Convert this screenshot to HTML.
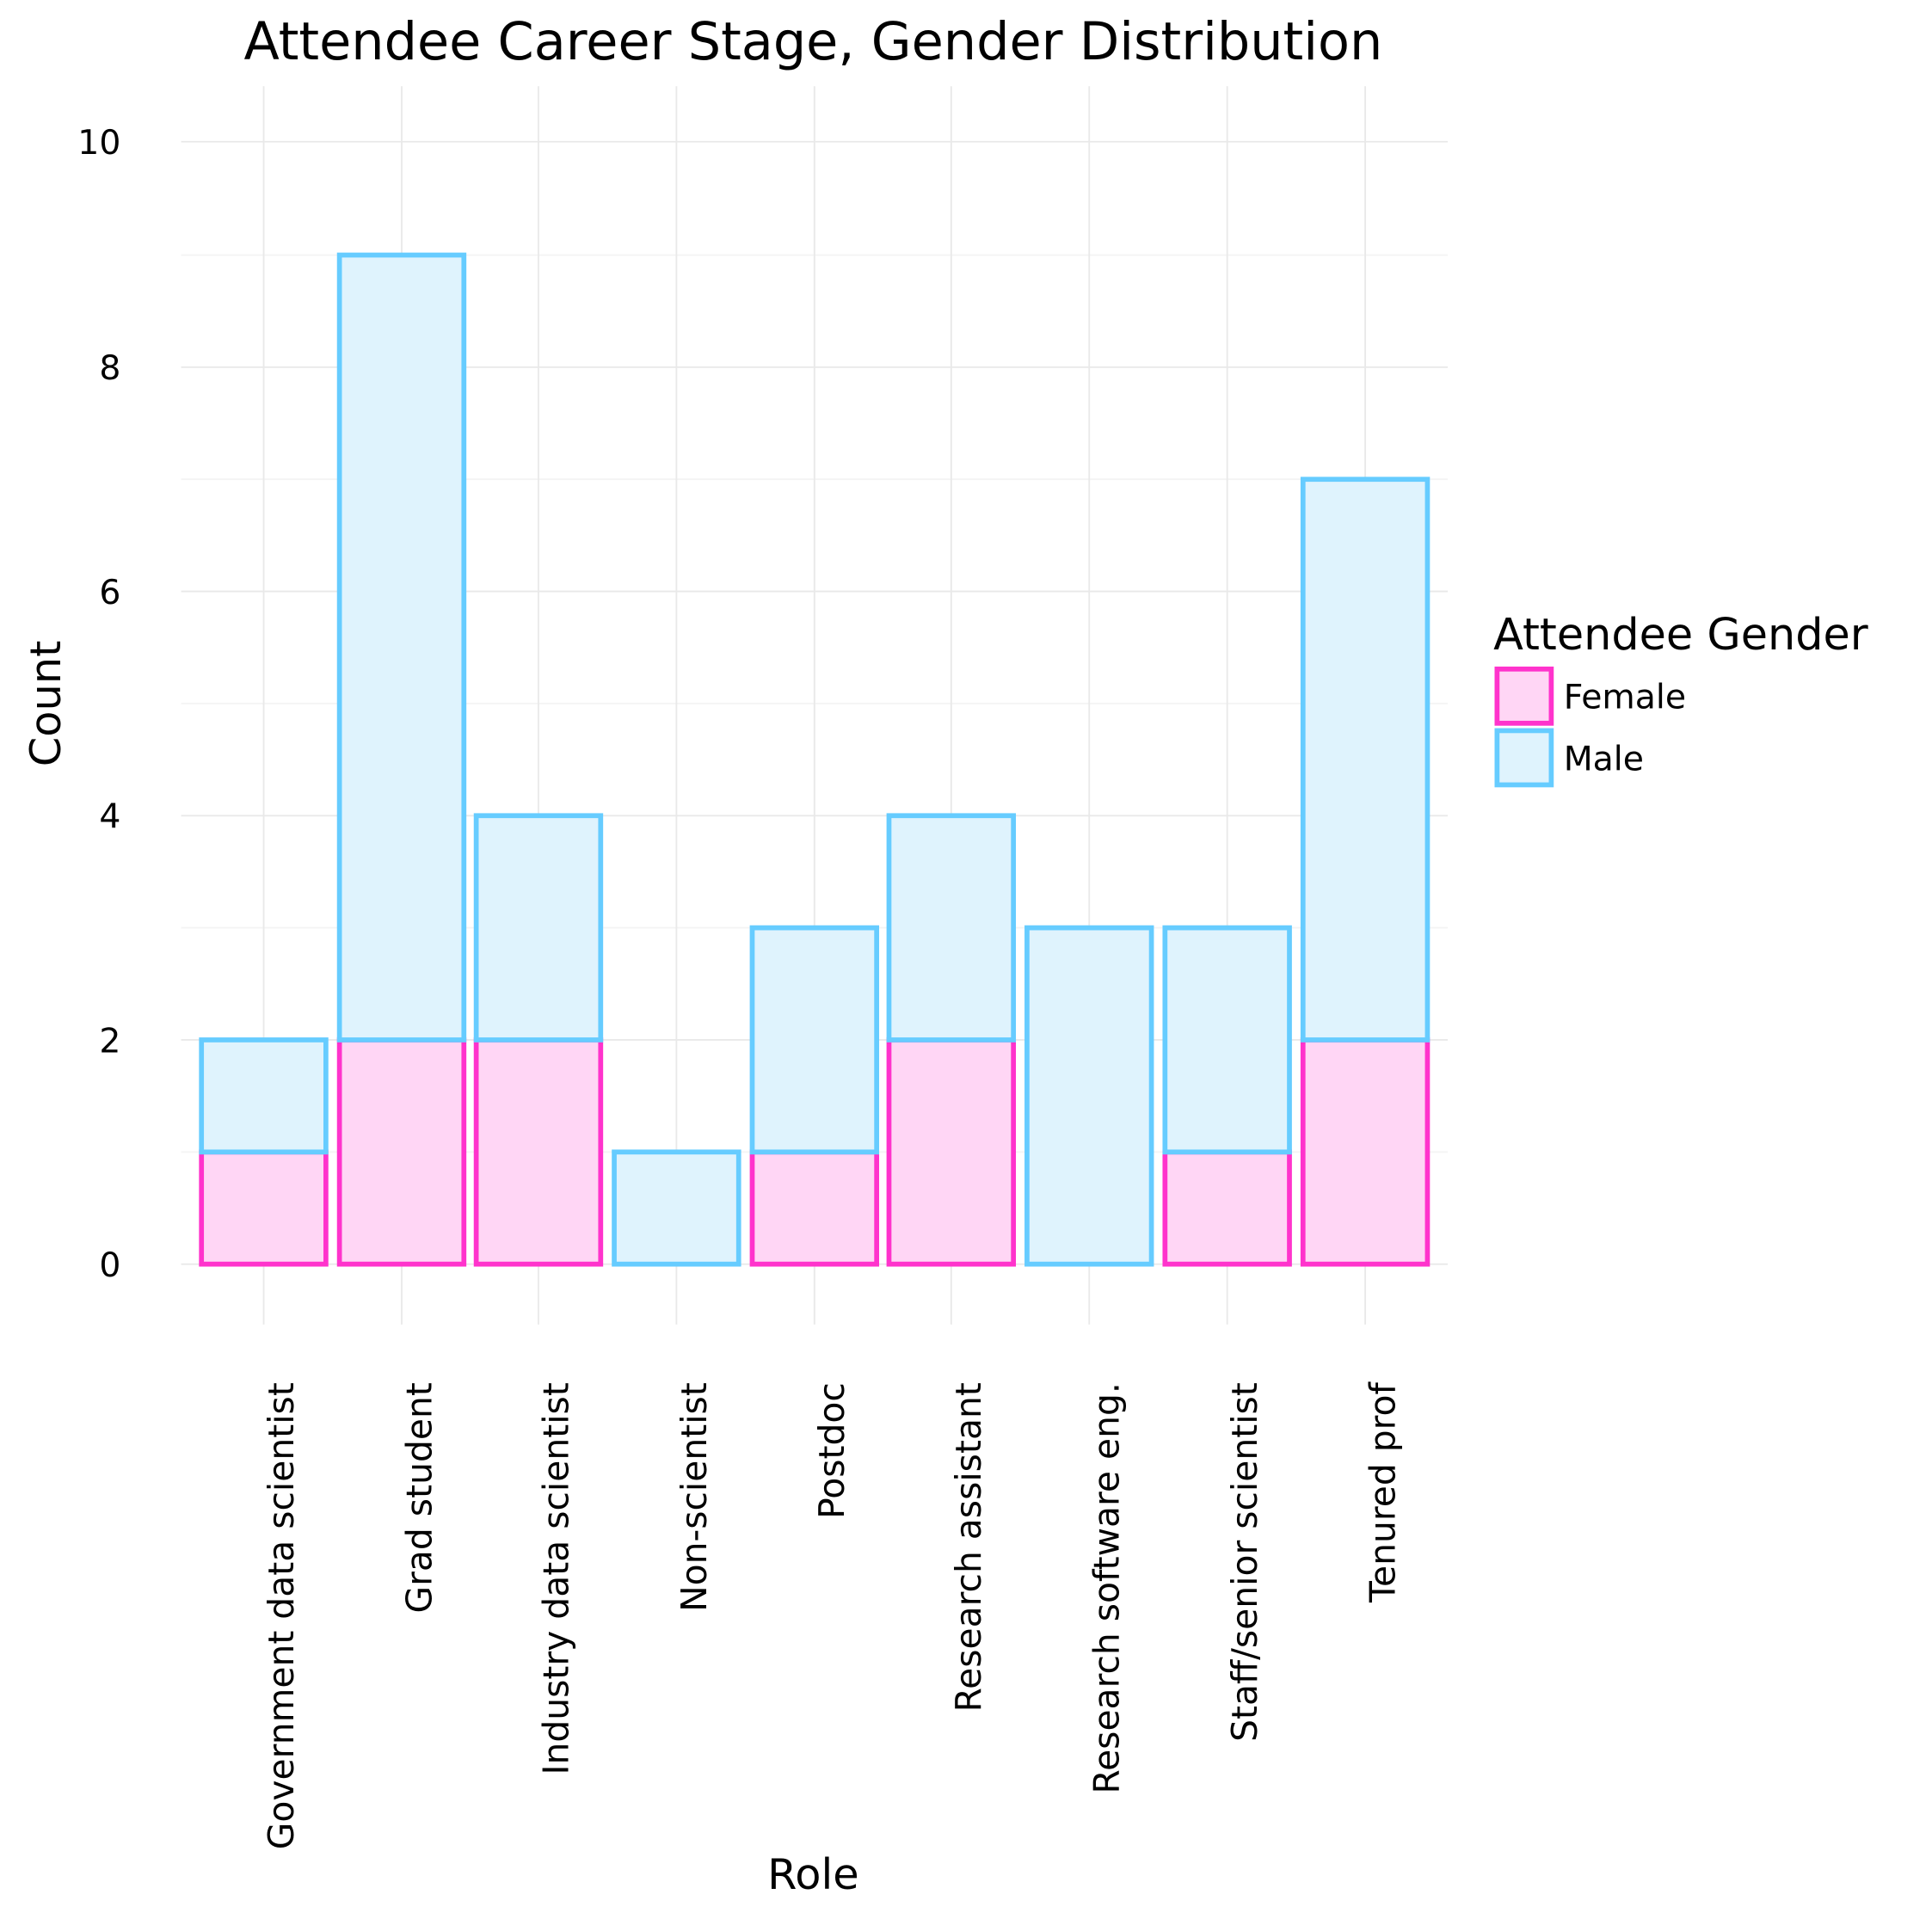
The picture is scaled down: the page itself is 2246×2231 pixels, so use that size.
<!DOCTYPE html>
<html><head><style>html,body{margin:0;padding:0;background:#fff}svg{display:block}</style></head>
<body>
<svg width="2246" height="2231" viewBox="0 0 1568 1557.5" xmlns="http://www.w3.org/2000/svg" font-family="DejaVu Sans, Liberation Sans, sans-serif">
<rect width="1568" height="1558" fill="#fff"/>
<g stroke="#f4f4f4" stroke-width="1.3">
<line x1="147" x2="1175" y1="935" y2="935"/><line x1="147" x2="1175" y1="753" y2="753"/><line x1="147" x2="1175" y1="571" y2="571"/><line x1="147" x2="1175" y1="389" y2="389"/><line x1="147" x2="1175" y1="207" y2="207"/>
</g>
<g stroke="#e9e9e9" stroke-width="1.3">
<line x1="147" x2="1175" y1="1026" y2="1026"/><line x1="147" x2="1175" y1="844" y2="844"/><line x1="147" x2="1175" y1="662" y2="662"/><line x1="147" x2="1175" y1="480" y2="480"/><line x1="147" x2="1175" y1="298" y2="298"/><line x1="147" x2="1175" y1="115" y2="115"/>
<line x1="214" x2="214" y1="70" y2="1075"/><line x1="326" x2="326" y1="70" y2="1075"/><line x1="437" x2="437" y1="70" y2="1075"/><line x1="549" x2="549" y1="70" y2="1075"/><line x1="661" x2="661" y1="70" y2="1075"/><line x1="772" x2="772" y1="70" y2="1075"/><line x1="884" x2="884" y1="70" y2="1075"/><line x1="996" x2="996" y1="70" y2="1075"/><line x1="1108" x2="1108" y1="70" y2="1075"/>
</g>
<g stroke-width="4">
<g fill="#ffd6f5" stroke="#ff33cc">
<rect x="163.5" y="935" width="101" height="91"/>
<rect x="275.5" y="844" width="101" height="182"/>
<rect x="386.5" y="844" width="101" height="182"/>
<rect x="610.5" y="935" width="101" height="91"/>
<rect x="721.5" y="844" width="101" height="182"/>
<rect x="945.5" y="935" width="101" height="91"/>
<rect x="1057.5" y="844" width="101" height="182"/>
</g>
<g fill="#dff3fd" stroke="#66ccff">
<rect x="163.5" y="844" width="101" height="91"/>
<rect x="275.5" y="207" width="101" height="637"/>
<rect x="386.5" y="662" width="101" height="182"/>
<rect x="498.5" y="935" width="101" height="91"/>
<rect x="610.5" y="753" width="101" height="182"/>
<rect x="721.5" y="662" width="101" height="182"/>
<rect x="833.5" y="753" width="101" height="273"/>
<rect x="945.5" y="753" width="101" height="182"/>
<rect x="1057.5" y="389" width="101" height="455"/>
</g>
</g>
<g font-size="27.5" fill="#000" text-anchor="end">
<text x="98" y="1036">0</text><text x="98" y="854">2</text><text x="98" y="672">4</text><text x="98" y="490">6</text><text x="98" y="308">8</text><text x="98" y="125">10</text>
</g>
<g font-size="28.5" fill="#000" text-anchor="end">
<text transform="translate(238,1122) rotate(-90)">Government data scientist</text>
<text transform="translate(350,1122) rotate(-90)">Grad student</text>
<text transform="translate(461,1122) rotate(-90)">Industry data scientist</text>
<text transform="translate(573,1122) rotate(-90)">Non-scientist</text>
<text transform="translate(685,1122) rotate(-90)">Postdoc</text>
<text transform="translate(796,1122) rotate(-90)">Research assistant</text>
<text transform="translate(908,1122) rotate(-90)">Research software eng.</text>
<text transform="translate(1020,1122) rotate(-90)">Staff/senior scientist</text>
<text transform="translate(1132,1122) rotate(-90)">Tenured prof</text>
</g>
<text x="660" y="48" font-size="42.2" text-anchor="middle">Attendee Career Stage, Gender Distribution</text>
<text transform="translate(49,571) rotate(-90)" font-size="34.5" text-anchor="middle">Count</text>
<text x="660" y="1533" font-size="34.5" text-anchor="middle">Role</text>
<text x="1212" y="527" font-size="35.5">Attendee Gender</text>
<rect x="1215" y="543" width="44" height="44" fill="#ffd6f5" stroke="#ff33cc" stroke-width="4"/>
<rect x="1215" y="593" width="44" height="44" fill="#dff3fd" stroke="#66ccff" stroke-width="4"/>
<text x="1269" y="575" font-size="27.5">Female</text>
<text x="1269" y="625" font-size="27.5">Male</text>
</svg>
</body></html>
